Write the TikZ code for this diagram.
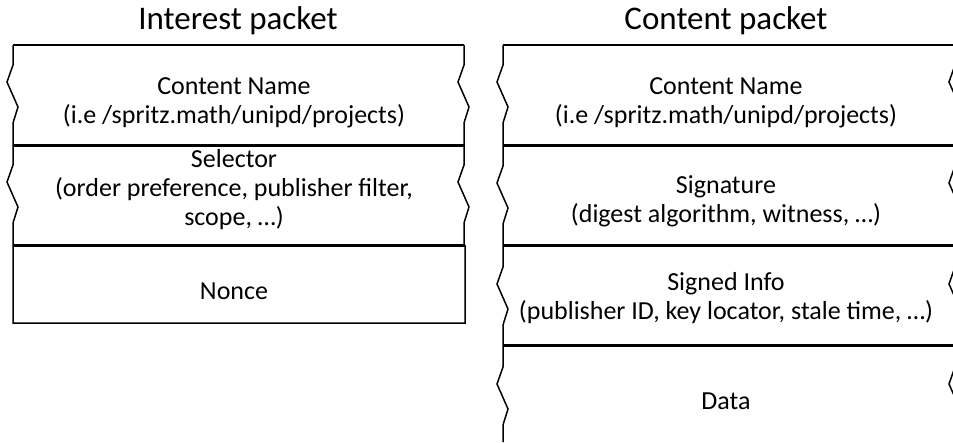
\documentclass[tikz,border=0pt]{standalone}
\usepackage{fontspec}
\setmainfont{Carlito}
\begin{document}
\begin{tikzpicture}[x=1pt,y=-1pt,
  frame/.style={line width=1.5pt},
  sepline/.style={line width=3pt},
  lbl/.style={font=\fontsize{26}{29}\selectfont, align=center, inner sep=0pt},
  ttl/.style={font=\fontsize{33}{38}\selectfont, inner sep=0pt},
  % a break mark cut into a vertical edge, starting at (#1,#2)
  jag/.style 2 args={insert path={-- (#1,#2) -- ++(-6,17) -- ++(11,25) -- ++(-5,16)}}]
\useasboundingbox (0,0) rectangle (953,442);
\clip (0,0) rectangle (953,442);

% ---- Interest packet ----
\draw[frame] (13,45) -- (464,45);
\draw[frame] (13,45) [jag={13}{65}] [jag={13}{165}] -- (13,323) -- (465,323) -- (465,245);
\draw[frame] (464,45) [jag={464}{65}] [jag={464}{165}] -- (464,245);
\draw[sepline] (13,145) -- (464,145);
\draw[sepline] (13,245) -- (465,245);

% ---- Content packet ----
\draw[frame] (503,45) -- (958,45);
\draw[frame] (503,45) [jag={503}{65}] [jag={503}{166}] [jag={503}{267}] [jag={503}{367}] -- (503,442);
\draw[frame] (955,45) [jag={955}{65}] [jag={955}{166}] [jag={955}{267}] [jag={955}{367}] -- (955,442);
\draw[sepline] (503,145) -- (958,145);
\draw[sepline] (503,245) -- (958,245);
\draw[sepline] (503,345) -- (958,345);

% ---- titles ----
\node[ttl] (tint) at (238,21) {Interest packet};
\node[ttl] (tcon) at (726,21) {Content packet};

% ---- fields ----
\node[lbl] (iname)  at (234,103) {Content Name\\(i.e /spritz.math/unipd/projects)};
\node[lbl] (isel)   at (234,190) {Selector\\(order preference, publisher filter,\\scope, …)};
\node[lbl] (inonce) at (234,291) {Nonce};

\node[lbl] (cname) at (726,103) {Content Name\\(i.e /spritz.math/unipd/projects)};
\node[lbl] (csig)  at (726,201) {Signature\\(digest algorithm, witness, …)};
\node[lbl] (cinfo) at (726,298) {Signed Info\\(publisher ID, key locator, stale time, …)};
\node[lbl] (cdata) at (726,401) {Data};
\end{tikzpicture}
\end{document}
